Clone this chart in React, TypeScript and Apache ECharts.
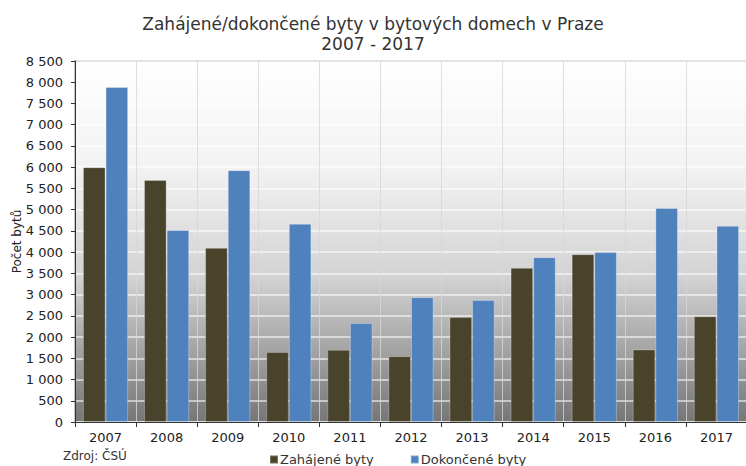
import React, { useEffect, useRef } from "react";
import * as echarts from "echarts";

const years = ["2007", "2008", "2009", "2010", "2011", "2012", "2013", "2014", "2015", "2016", "2017"];
const zahajene = [6000, 5700, 4100, 1650, 1700, 1550, 2470, 3630, 3950, 1710, 2490];
const dokoncene = [7890, 4520, 5930, 4670, 2330, 2940, 2870, 3880, 4000, 5040, 4620];

const FONT = "'DejaVu Sans', Verdana, sans-serif";

function fmt(v: number): string {
  return String(v).replace(/\B(?=(\d{3})+(?!\d))/g, " ");
}

export default function App() {
  const ref = useRef<HTMLDivElement>(null);
  useEffect(() => {
    if (!ref.current) return;
    const chart = echarts.init(ref.current, undefined, { renderer: "svg" });
    chart.setOption({
      animation: false,
      backgroundColor: "#ffffff",
      title: {
        text: "Zahájené/dokončené byty v bytových domech v Praze\n2007 - 2017",
        left: "center",
        top: 9,
        textStyle: { fontFamily: FONT, fontSize: 17, fontWeight: "normal", color: "#333", lineHeight: 20 },
      },
      legend: {
        left: 264,
        top: 448,
        itemWidth: 8,
        itemHeight: 8,
        itemGap: 36,
        icon: "rect",
        textStyle: { fontFamily: FONT, fontSize: 13, color: "#333", padding: [0, 0, 0, -3] },
        data: ["Zahájené byty", "Dokončené byty"],
      },
      graphic: [
        {
          type: "text",
          left: 63,
          top: 450,
          style: { text: "Zdroj: ČSÚ", fontFamily: FONT, fontSize: 12, fill: "#333" },
        },
      ],
      grid: {
        left: 75,
        top: 61,
        width: 672,
        height: 361,
        outerBoundsMode: "none",
        containLabel: false,
        show: true,
        borderColor: "#c4c4c4",
        borderWidth: 2,
        backgroundColor: new echarts.graphic.LinearGradient(0, 0, 0, 1, [
          { offset: 0, color: "#ffffff" },
          { offset: 0.3, color: "#f2f2f2" },
          { offset: 0.6, color: "#d2d2d2" },
          { offset: 1, color: "#767676" },
        ]),
      },
      xAxis: {
        type: "category",
        data: years,
        axisLine: { show: true, lineStyle: { color: "#333", width: 1 } },
        axisTick: { show: true, alignWithLabel: false, length: 5, lineStyle: { color: "#333" } },
        axisLabel: { fontFamily: FONT, fontSize: 13, color: "#222", margin: 9 },
        splitLine: { show: true, lineStyle: { color: "rgba(215,215,215,0.8)", width: 1 } },
      },
      yAxis: {
        type: "value",
        min: 0,
        max: 8500,
        interval: 500,
        name: "Počet bytů",
        nameLocation: "middle",
        nameGap: 52,
        nameMoveOverlap: false,
        nameTextStyle: { fontFamily: FONT, fontSize: 12, color: "#222" },
        axisLine: { show: true, lineStyle: { color: "#333", width: 1 } },
        axisTick: { show: true, length: 4, lineStyle: { color: "#333" } },
        axisLabel: { fontFamily: FONT, fontSize: 13, color: "#222", margin: 12, formatter: (v: number) => fmt(v) },
        splitLine: { show: true, lineStyle: { color: "rgba(255,255,255,0.55)", width: 2 } },
      },
      series: [
        {
          name: "Zahájené byty",
          type: "bar",
          data: zahajene,
          barGap: "0%",
          barCategoryGap: "26%",
          itemStyle: { color: "#4a432c", borderColor: "rgba(255,255,255,0.25)", borderWidth: 1 },
        },
        {
          name: "Dokončené byty",
          type: "bar",
          data: dokoncene,
          itemStyle: { color: "#4f81bd", borderColor: "rgba(255,255,255,0.3)", borderWidth: 1 },
        },
      ],
    });
    return () => chart.dispose();
  }, []);
  return <div ref={ref} style={{ width: 746, height: 466, position: "absolute", left: 0, top: 0 }} />;
}
